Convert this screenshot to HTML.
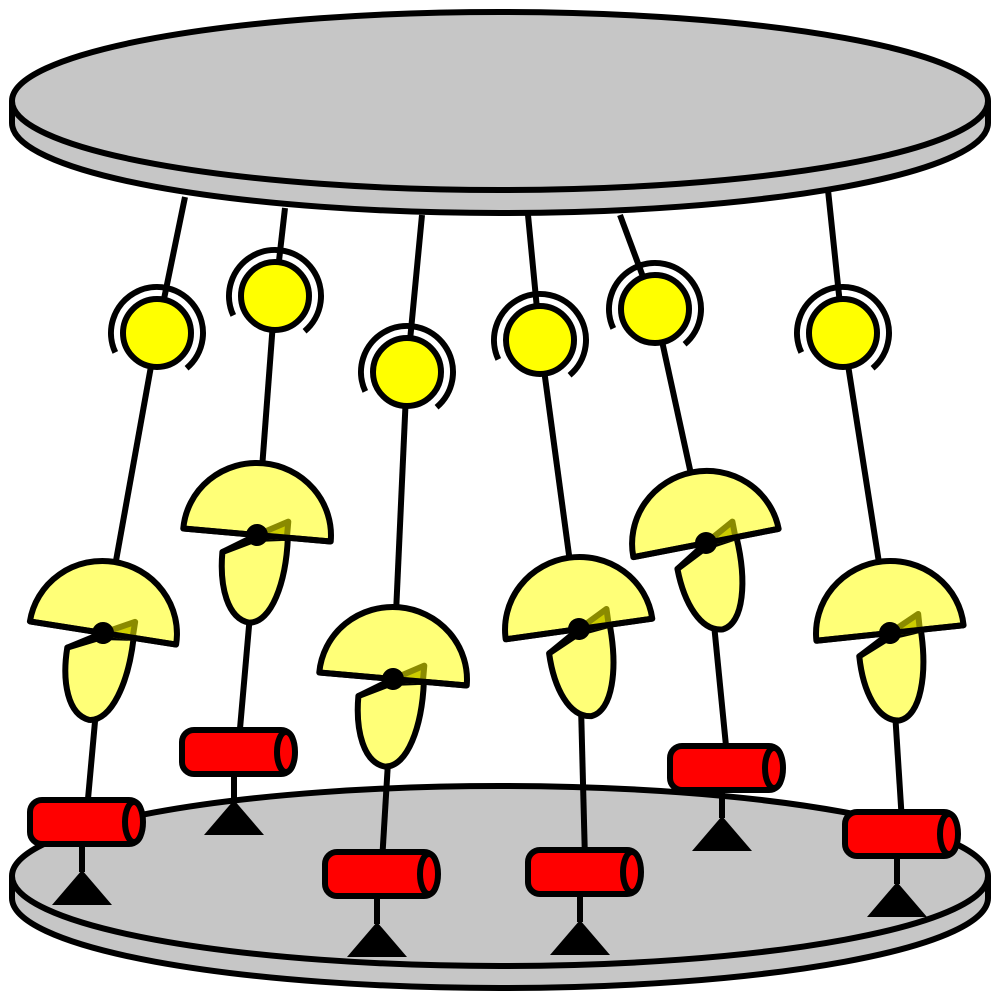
<!DOCTYPE html>
<html><head><meta charset="utf-8"><style>html,body{margin:0;padding:0;background:#fff}svg{display:block}</style></head>
<body>
<svg id="s" width="1000" height="1000" viewBox="0 0 1000 1000" xmlns="http://www.w3.org/2000/svg">
  <g id="base" stroke="#000" stroke-width="6" fill="#c6c6c6">
    <ellipse cx="500" cy="898" rx="488" ry="90"/>
    <rect x="12" y="876" width="976" height="22" stroke="none"/>
    <line x1="12" y1="876" x2="12" y2="898"/>
    <line x1="988" y1="876" x2="988" y2="898"/>
    <ellipse cx="500" cy="876" rx="488" ry="90"/>
  </g>
  <g id="legs"></g>
  <g id="top" stroke="#000" stroke-width="6" fill="#c6c6c6">
    <ellipse cx="500" cy="123" rx="488" ry="90"/>
    <rect x="12" y="101" width="976" height="22" stroke="none"/>
    <line x1="12" y1="101" x2="12" y2="123"/>
    <line x1="988" y1="101" x2="988" y2="123"/>
    <ellipse cx="500" cy="101" rx="488" ry="89"/>
  </g>
  <g id="parts"></g>
</svg>
<script>
const topAttach=[[185,197],[285,208],[422,215],[528,215],[620,215],[828,190]];
const balls=[[157,333],[275,296],[407,372],[540,340],[655,309],[843,333]];
const pivots=[[103,633],[257,535],[393,679],[579,629],[706,543],[890,633]];
const tilts=[9,5,5,-8,-11,-6];
const cyls=[[30,800],[182,730],[325,852],[528,850],[670,746],[845,812]];
const NS="http://www.w3.org/2000/svg";
function mk(tag,attrs,parent){const e=document.createElementNS(NS,tag);for(const k in attrs)e.setAttribute(k,attrs[k]);parent.appendChild(e);return e;}
const legs=document.getElementById('legs');
const parts=document.getElementById('parts');
const R=46,a1=155*Math.PI/180,a2=50*Math.PI/180,W=6;
for(let i=0;i<6;i++){
  const [tx,ty]=topAttach[i],[bx,by]=balls[i],[px,py]=pivots[i],[cx,cy]=cyls[i];
  const ccx=cx+57;
  const l1=mk('line',{x1:tx,y1:ty,x2:bx,y2:by,stroke:'#000','stroke-width':W},legs);
  
  
  const l2=mk('line',{x1:bx,y1:by,x2:px,y2:py,stroke:'#000','stroke-width':W},parts);
  
  
  const l3=mk('line',{x1:px,y1:py,x2:ccx,y2:cy+10,stroke:'#000','stroke-width':W},parts);
  
  
  const bg=mk('g',{},parts);
  
  
  mk('path',{d:`M${bx+R*Math.cos(a1)},${by+R*Math.sin(a1)} A${R},${R} 0 1 1 ${bx+R*Math.cos(a2)},${by+R*Math.sin(a2)}`,fill:'none',stroke:'#000','stroke-width':W},bg);
  mk('circle',{cx:bx,cy:by,r:34,fill:'#ffff00',stroke:'#000','stroke-width':W},bg);
  const ug=mk('g',{transform:`translate(${px},${py}) rotate(${tilts[i]})`},parts);
  
  
  mk('path',{d:'M-33,20 L0,4 L31,0 C33,45 22,86 0,88 C-22,86 -33,55 -33,20 Z',fill:'#ffff77',stroke:'#000','stroke-width':W,'stroke-linejoin':'round'},ug);
  mk('path',{d:'M-74,0 A74,72 0 0 1 74,0 Z',fill:'#ffff77',stroke:'#000','stroke-width':W,'stroke-linejoin':'round'},ug);
  mk('path',{d:'M0,0 L30,-16 L30,0 Z',fill:'#cccc00',stroke:'#8a8a00','stroke-width':W,'stroke-linejoin':'round'},ug);
  mk('line',{x1:-74,y1:0,x2:74,y2:0,stroke:'#000','stroke-width':W},ug);
  mk('line',{x1:0,y1:0,x2:-33,y2:20,stroke:'#000','stroke-width':W},ug);
  mk('circle',{cx:0,cy:0,r:11,fill:'#000'},ug);
  const cg=mk('g',{},parts);
  
  
  mk('line',{x1:ccx-5,y1:cy+45,x2:ccx-5,y2:cy+72,stroke:'#000','stroke-width':W},cg);
  mk('path',{d:`M${ccx-5},${cy+70} L${ccx-35},${cy+105} L${ccx+25},${cy+105} Z`,fill:'#000'},cg);
  mk('rect',{x:cx,y:cy,width:111,height:44,rx:12,fill:'#ff0000',stroke:'#000','stroke-width':W},cg);
  mk('ellipse',{cx:cx+104,cy:cy+22,rx:9,ry:20,fill:'#ff0000',stroke:'#000','stroke-width':W},cg);
}
</script>
</body></html>
